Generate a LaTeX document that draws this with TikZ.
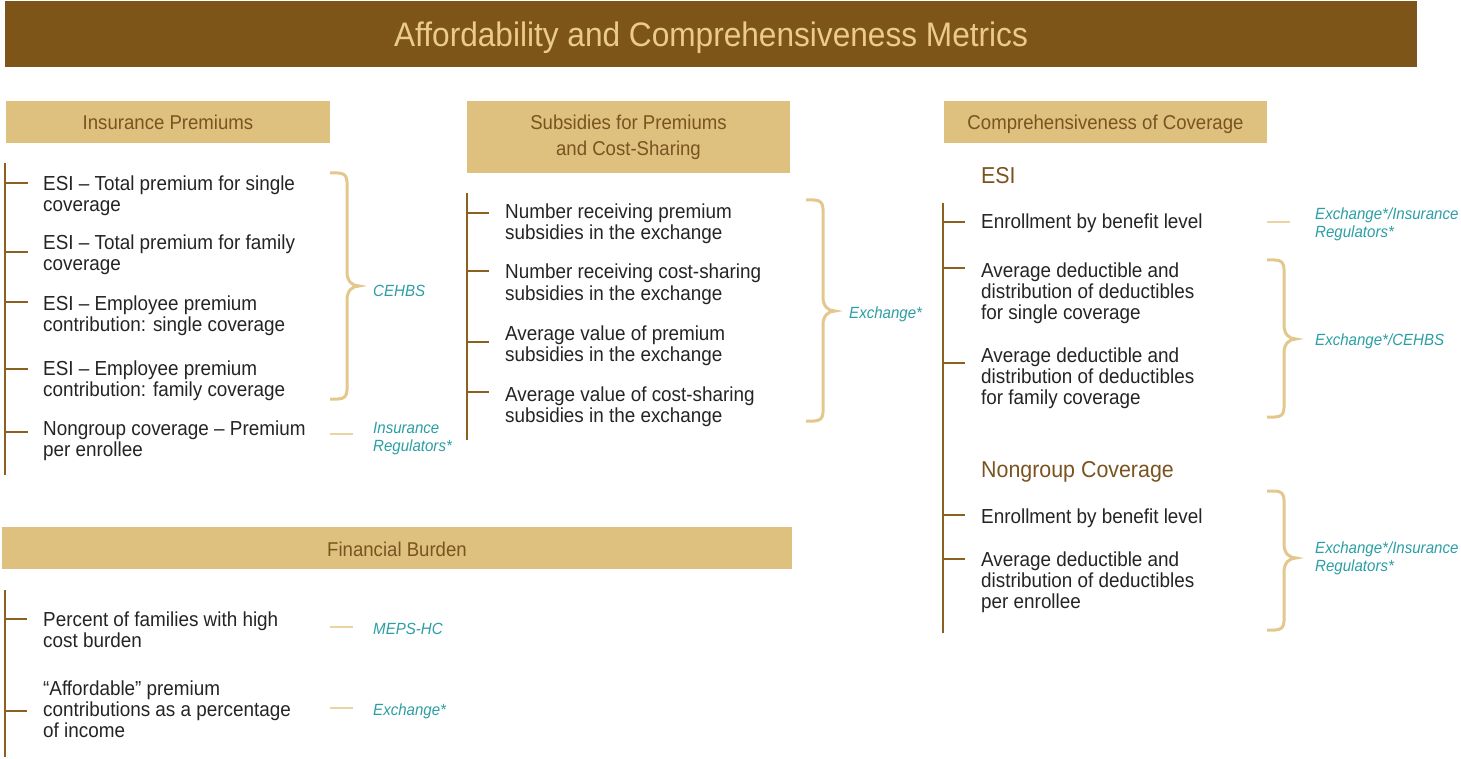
\documentclass[tikz,border=0pt]{standalone}
\usepackage{fontspec}
\setmainfont{Liberation Sans}[FakeStretch=0.93]
\definecolor{barbrown}{HTML}{7D5519}
\definecolor{titletext}{HTML}{EBCB8B}
\definecolor{hdrfill}{HTML}{DEC17F}
\definecolor{hdrtext}{HTML}{7A5320}
\definecolor{tickc}{HTML}{8B6122}
\definecolor{bracec}{HTML}{E3C78C}
\definecolor{shortc}{HTML}{E9D4A2}
\definecolor{teal}{HTML}{2B9EA5}
\definecolor{bodyc}{HTML}{242424}
\tikzset{
  hdr/.style={fill=hdrfill, text=hdrtext, inner sep=0pt, align=center,
    font=\fontsize{20}{26}\selectfont},
  hdrone/.style={hdr, text height=16pt, text depth=0pt},
  item/.style={anchor=base west, inner sep=0pt, align=left, text=bodyc,
    font=\fontsize{20.3}{21}\selectfont},
  subhead/.style={anchor=base west, inner sep=0pt, text=hdrtext,
    font=\fontsize{23}{26}\selectfont},
  src/.style={anchor=base west, inner sep=0pt, align=left, text=teal,
    font=\fontsize{16.2}{18}\selectfont\itshape},
  vline/.style={draw=tickc, line width=1.5pt},
  tick/.style={draw=tickc, line width=1.3pt},
  brace/.style={draw=bracec, line width=3pt},
  shortl/.style={draw=shortc, line width=1.5pt},
}
\newcommand\gbrace[4]{%
  \draw[brace] (#1,#2) -- (#1+8,#2) .. controls (#1+14,#2) and (#1+17,#2+3) .. (#1+17,#2+9)
    -- (#1+17,#3-14) .. controls (#1+17,#3-5) and (#1+22,#3) .. (#1+29,#3)
    .. controls (#1+22,#3) and (#1+17,#3+5) .. (#1+17,#3+14)
    -- (#1+17,#4-9) .. controls (#1+17,#4-3) and (#1+14,#4) .. (#1+8,#4) -- (#1,#4);}
\begin{document}
\begin{tikzpicture}[x=1pt,y=-1pt]
\useasboundingbox (0,0) rectangle (1461,759);
% title
\node[fill=barbrown, text=titletext, minimum width=1412pt, minimum height=66pt, inner sep=0pt,
  text height=24pt, text depth=0pt,
  font=\fontsize{34}{36}\selectfont] (title) at (711,34.5) {Affordability and Comprehensiveness Metrics};
% headers
\node[hdrone, minimum width=324pt, minimum height=42pt] (hIP) at (168,122) {Insurance Premiums};
\node[hdr, minimum width=323pt, minimum height=72pt] (hSub) at (628.5,137) {Subsidies for Premiums\\and Cost-Sharing};
\node[hdrone, minimum width=323pt, minimum height=42pt] (hCC) at (1105.5,122) {Comprehensiveness of Coverage};
\node[hdrone, minimum width=790pt, minimum height=42pt] (hFB) at (397,548) {Financial Burden};

% ---- Insurance premiums (node anchors are at the last line's baseline)
\coordinate (ipT) at (5,163); \coordinate (ipB) at (5,475);
\draw[vline] (ipT) -- (ipB);
\node[item] (ip1) at (43,212) {ESI – Total premium for single\\coverage};
\node[item] (ip2) at (43,271) {ESI – Total premium for family\\coverage};
\node[item] (ip3) at (43,331) {ESI – Employee premium\\contribution: single coverage};
\node[item] (ip4) at (43,396) {ESI – Employee premium\\contribution: family coverage};
\node[item] (ip5) at (43,456) {Nongroup coverage – Premium\\per enrollee};
\foreach \y in {183,252,302,369,432} \draw[tick] (5,\y) -- (28,\y);
\gbrace{330}{173}{286}{399}
\node[src] (sCEHBS) at (373,296) {CEHBS};
\node[src] (sIR) at (373,451) {Insurance\\Regulators*};
\draw[shortl] (330,434) -- (353,434);

% ---- Subsidies
\coordinate (sbT) at (467,193); \coordinate (sbB) at (467,440);
\draw[vline] (sbT) -- (sbB);
\node[item] (sb1) at (505,240) {Number receiving premium\\subsidies in the exchange};
\node[item] (sb2) at (505,300) {Number receiving cost-sharing\\subsidies in the exchange};
\node[item] (sb3) at (505,361) {Average value of premium\\subsidies in the exchange};
\node[item] (sb4) at (505,422) {Average value of cost-sharing\\subsidies in the exchange};
\foreach \y in {213,271,342,392} \draw[tick] (467,\y) -- (489,\y);
\gbrace{806}{200}{311}{421}
\node[src] (sEx) at (849,318) {Exchange*};

% ---- Comprehensiveness
\node[subhead] (esi) at (981,184) {ESI};
\coordinate (ccT) at (943,203); \coordinate (ccB) at (943,633);
\draw[vline] (ccT) -- (ccB);
\node[item] (cc1) at (981,229) {Enrollment by benefit level};
\node[item] (cc2) at (981,319) {Average deductible and\\distribution of deductibles\\for single coverage};
\node[item] (cc3) at (981,404) {Average deductible and\\distribution of deductibles\\for family coverage};
\node[subhead] (ng) at (981,477) {Nongroup Coverage};
\node[item] (cc4) at (981,523) {Enrollment by benefit level};
\node[item] (cc5) at (981,608) {Average deductible and\\distribution of deductibles\\per enrollee};
\foreach \y in {222,268,363,515,559} \draw[tick] (943,\y) -- (965,\y);
\draw[shortl] (1267,222) -- (1290,222);
\node[src] (sExIR1) at (1315,238) {Exchange*/Insurance\\Regulators*};
\gbrace{1267}{260}{339}{417}
\node[src] (sExC) at (1315,345) {Exchange*/CEHBS};
\gbrace{1267}{491}{558}{630}
\node[src] (sExIR2) at (1315,571) {Exchange*/Insurance\\Regulators*};

% ---- Financial burden
\coordinate (fbT) at (5,590); \coordinate (fbB) at (5,757);
\draw[vline] (fbT) -- (fbB);
\node[item] (fb1) at (43,647) {Percent of families with high\\cost burden};
\node[item] (fb2) at (43,737) {“Affordable” premium\\contributions as a percentage\\of income};
\foreach \y in {619,711} \draw[tick] (5,\y) -- (27,\y);
\draw[shortl] (330,627) -- (353,627);
\node[src] (sMEPS) at (373,634) {MEPS-HC};
\draw[shortl] (330,708) -- (353,708);
\node[src] (sEx2) at (373,715) {Exchange*};
\end{tikzpicture}
\end{document}
